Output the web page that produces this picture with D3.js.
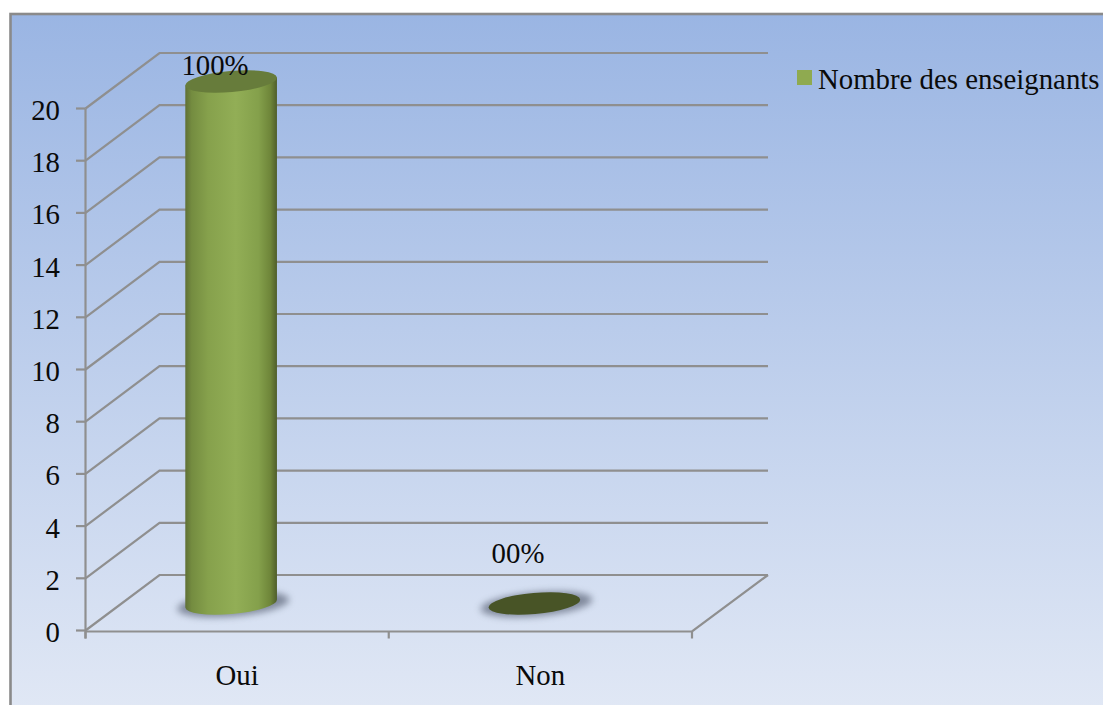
<!DOCTYPE html>
<html><head><meta charset="utf-8">
<script src="https://cdn.jsdelivr.net/npm/d3@7"></script>
<style>html,body{margin:0;padding:0;background:#fff;overflow:hidden}svg{display:block}text{font-family:"Liberation Serif",serif;fill:#0a0a0a}</style>
</head><body><svg id="c" width="1103" height="705"></svg>
<script>
const categories = ["Oui","Non"];
const values = [20,0];
const valueLabels = ["100%","00%"];
const yTicks = [0,2,4,6,8,10,12,14,16,18,20];
const seriesName = "Nombre des enseignants";

const svg = d3.select("#c");
const defs = svg.append("defs");
const y = d3.scaleLinear().domain([0,20]).range([630.5,108.5]);
const x = d3.scaleBand().domain(categories).range([85.5,692]);
const dx = 74, dy = 55.5;           // wall depth
const grid = "#8f8f8f";

const bg = defs.append("linearGradient").attr("id","bg").attr("x1",0).attr("x2",0).attr("y1",0).attr("y2",1);
bg.append("stop").attr("offset",0).attr("stop-color","#9ab5e3");
bg.append("stop").attr("offset",1).attr("stop-color","#e1e8f5");
const cyl = defs.append("linearGradient").attr("id","cyl");
[[0,"#5f7035"],[.07,"#748c40"],[.25,"#86a14c"],[.55,"#92ae56"],[.8,"#84a04b"],[.93,"#6e8539"],[1,"#4f5e2b"]]
  .forEach(d=>cyl.append("stop").attr("offset",d[0]).attr("stop-color",d[1]));
defs.append("filter").attr("id","blur").attr("x","-30%").attr("y","-80%").attr("width","160%").attr("height","260%")
  .append("feGaussianBlur").attr("stdDeviation",3.5);

svg.append("rect").attr("x",10.5).attr("y",14).attr("width",1100).attr("height",700)
  .attr("fill","url(#bg)").attr("stroke","#8a8a8a").attr("stroke-width",2.6);

// gridlines with side wall
const g = svg.append("g").attr("fill","none").attr("stroke",grid).attr("stroke-width",2.2);
yTicks.forEach(t=>{
  g.append("path").attr("d",`M${x.range()[0]},${y(t)}L${x.range()[0]+dx},${y(t)-dy}L${768},${y(t)-dy}`);
  g.append("line").attr("x1",76).attr("x2",x.range()[0]).attr("y1",y(t)).attr("y2",y(t));
});
g.append("line").attr("x1",x.range()[0]).attr("x2",x.range()[0]).attr("y1",y(20)).attr("y2",y(0)+8);
g.append("path").attr("d",`M${x.range()[0]},${y(0)+1}L692,${y(0)+1}L768,${y(0)-dy}`);
[x.range()[0], (x.range()[0]+692)/2, 692].forEach(p=>
  g.append("line").attr("x1",p).attr("x2",p).attr("y1",y(0)+1).attr("y2",y(0)+8));

// y labels
svg.append("g").selectAll("text").data(yTicks).join("text")
  .attr("x",60).attr("y",d=>y(d)+11.5).attr("text-anchor","end").attr("font-size",28.8).text(d=>d);
// x labels
svg.append("g").selectAll("text").data(categories).join("text")
  .attr("x",d=>x(d)+x.bandwidth()/2).attr("y",685).attr("text-anchor","middle").attr("font-size",28.8).text(d=>d);

// cylinders
const rx = 46, ry = 10.5, tilt = -5, depthY = 27, shift = -6;
const rad = tilt*Math.PI/180, ex = rx*Math.cos(rad), ey = rx*Math.sin(rad);
const cols = svg.append("g");
categories.forEach((c,i)=>{
  const cx = x(c)+x.bandwidth()/2+shift;
  const base = y(0)-depthY, top = y(values[i])-depthY;
  cols.append("ellipse").attr("cx",cx+2).attr("cy",base+1).attr("rx",rx+10).attr("ry",ry+1.5)
    .attr("transform",`rotate(${tilt} ${cx} ${base})`)
    .attr("fill","#6a7386").attr("opacity",.8).attr("filter","url(#blur)");
  if(values[i]>0){
    cols.append("path").attr("fill","url(#cyl)")
      .attr("d",`M${cx-ex},${top-ey}L${cx-ex},${base-ey}A${rx},${ry} ${tilt} 0 0 ${cx+ex},${base+ey}L${cx+ex},${top+ey}Z`);
  }
  cols.append("ellipse").attr("cx",cx).attr("cy",top).attr("rx",rx).attr("ry",ry)
    .attr("transform",`rotate(${tilt} ${cx} ${top})`)
    .attr("fill",values[i]>0?"#677c3b":"#485426");
});

// data labels
const lblX = [215,518], lblY = [75,563];
svg.append("g").selectAll("text").data(valueLabels).join("text")
  .attr("x",(d,i)=>lblX[i]).attr("y",(d,i)=>lblY[i]).attr("text-anchor","middle").attr("font-size",28.8).text(d=>d);

// legend
svg.append("rect").attr("x",797).attr("y",70).attr("width",15).attr("height",15).attr("fill","#8faa50");
svg.append("text").attr("x",818).attr("y",88.5).attr("font-size",28.8).text(seriesName);
</script></body></html>
